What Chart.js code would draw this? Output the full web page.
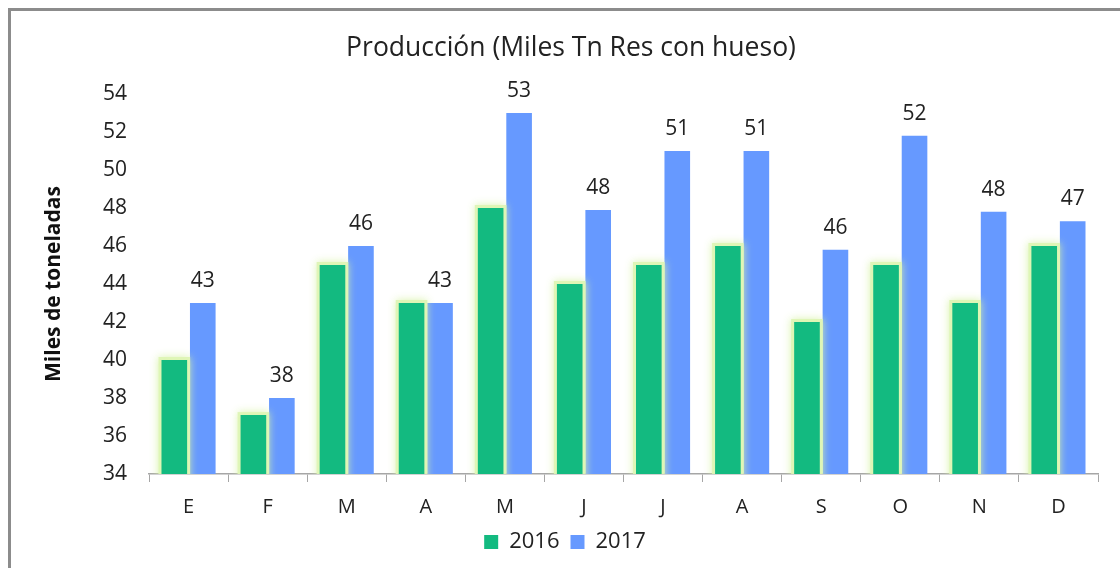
<!DOCTYPE html>
<html>
<head>
<meta charset="utf-8">
<script src="https://cdn.jsdelivr.net/npm/chart.js@4.4.0/dist/chart.umd.min.js"></script>
<style>
  html, body { margin: 0; padding: 0; background: #fff; }
  #frame {
    position: absolute; left: 8px; top: 8px; width: 1120px; height: 580px;
    border-top: 3px solid #8c8c8c; border-left: 3px solid #8c8c8c;
  }
  #wrap { position: absolute; left: 0; top: 0; width: 1120px; height: 568px; }
</style>
</head>
<body>
<div id="frame"></div>
<div id="wrap"><canvas id="chart"></canvas></div>
<script>
const chartTitle = "Producción (Miles Tn Res con hueso)";
const months = ["E", "F", "M", "A", "M", "J", "J", "A", "S", "O", "N", "D"];
const prod2016 = [40, 37.1, 45, 43, 48, 44, 45, 46, 42, 45, 43, 46];
const prod2017 = [43, 38, 46, 43, 53, 47.9, 51, 51, 45.8, 51.8, 47.8, 47.3];
const labels2017 = ["43", "38", "46", "43", "53", "48", "51", "51", "46", "52", "48", "47"];
const yTicks = [34, 36, 38, 40, 42, 44, 46, 48, 50, 52, 54];

const FONT = "'Open Sans', 'DejaVu Sans', sans-serif";

// soft yellow-green glow behind the 2016 bars
const glowPlugin = {
  id: "glow",
  beforeDatasetDraw(chart, args) {
    if (args.index !== 0) return;
    const ctx = chart.ctx;
    const area = chart.chartArea;
    ctx.save();
    ctx.beginPath();
    ctx.rect(area.left, area.top - 20, area.right - area.left, area.bottom - area.top + 20);
    ctx.clip();
    ctx.fillStyle = "rgba(222, 245, 180, 0.9)";
    ctx.shadowColor = "rgba(215, 242, 165, 1)";
    ctx.shadowBlur = 8;
    args.meta.data.forEach(bar => {
      const p = bar.getProps(["x", "y", "base", "width"], true);
      const w = p.width + 6;
      ctx.fillRect(p.x - w / 2, p.y - 3, w, p.base - p.y + 3);
    });
    ctx.restore();
  }
};

// value labels over the 2017 bars + the title (drawn a bit right of the plot centre, like the original)
const textPlugin = {
  id: "texts",
  afterDatasetsDraw(chart) {
    const ctx = chart.ctx;
    const meta = chart.getDatasetMeta(1);
    ctx.save();
    ctx.font = "21px " + FONT;
    ctx.fillStyle = "#222";
    ctx.textAlign = "center";
    ctx.textBaseline = "middle";
    meta.data.forEach((bar, i) => {
      ctx.fillText(labels2017[i], bar.x, bar.y - 22);
    });
    ctx.font = "26.5px " + FONT;
    ctx.fillText(chartTitle, chart.width / 2 + 11, 48);
    ctx.restore();
  }
};

new Chart(document.getElementById("chart"), {
  type: "bar",
  data: {
    labels: months,
    datasets: [
      {
        label: "2016",
        data: prod2016,
        backgroundColor: "#13ba80",
        categoryPercentage: 0.72,
        barPercentage: 0.9
      },
      {
        label: "2017",
        data: prod2017,
        backgroundColor: "#6699ff",
        categoryPercentage: 0.72,
        barPercentage: 0.9
      }
    ]
  },
  options: {
    responsive: true,
    maintainAspectRatio: false,
    animation: false,
    layout: { padding: { left: 32, right: 22, top: 94, bottom: 5 } },
    plugins: {
      title: { display: false },
      legend: {
        position: "bottom",
        labels: {
          color: "#222",
          boxWidth: 14,
          boxHeight: 14,
          padding: 11,
          font: { family: FONT, size: 22 }
        }
      },
      tooltip: { enabled: false }
    },
    scales: {
      x: {
        grid: {
          display: true,
          drawOnChartArea: false,
          drawTicks: true,
          tickLength: 8,
          color: "#a6a6a6",
          offset: true
        },
        border: { color: "#a6a6a6", width: 1.5 },
        ticks: {
          color: "#222",
          padding: 13,
          font: { family: FONT, size: 20 }
        },
        afterFit(scale) { scale.height = 46; }
      },
      y: {
        min: 34,
        max: 54,
        afterBuildTicks(scale) { scale.ticks = yTicks.map(v => ({ value: v })); },
        grid: { display: false, drawTicks: false },
        border: { display: false },
        ticks: {
          color: "#222",
          padding: 22,
          font: { family: FONT, size: 21 }
        },
        title: {
          display: true,
          text: "Miles de toneladas",
          color: "#111",
          font: { family: FONT, size: 21, weight: "bold" },
          padding: { top: 9, bottom: 0 }
        },
        afterFit(scale) { scale.width = 117; }
      }
    }
  },
  plugins: [glowPlugin, textPlugin]
});
</script>
</body>
</html>
